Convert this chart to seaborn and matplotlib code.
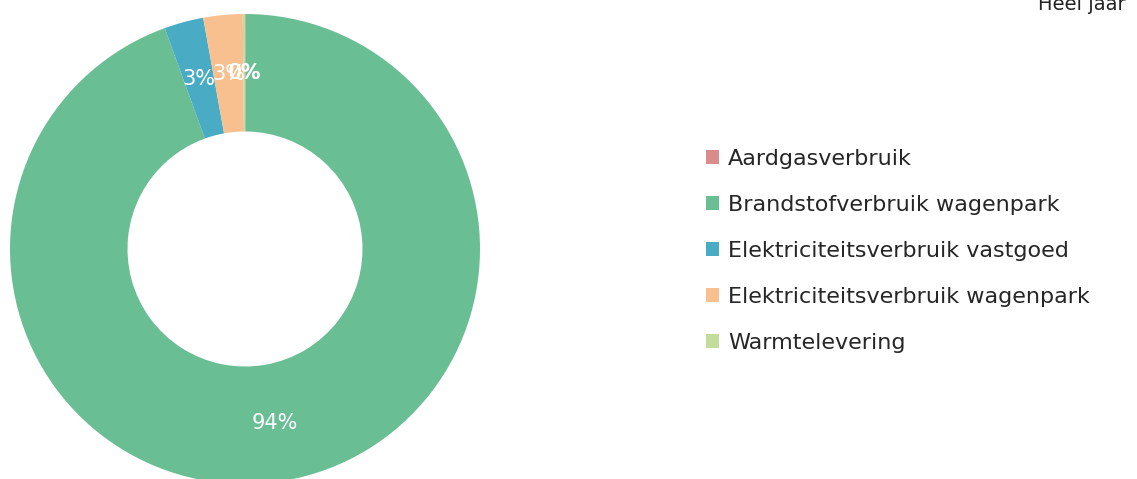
import matplotlib
matplotlib.use('Agg')
import matplotlib.pyplot as plt
import seaborn as sns
from matplotlib.patches import Patch

categories = ['Aardgasverbruik', 'Brandstofverbruik wagenpark',
              'Elektriciteitsverbruik vastgoed', 'Elektriciteitsverbruik wagenpark',
              'Warmtelevering']
values = [0.05, 94.4, 2.7, 2.7, 0.15]
colors = ['#d98c8c', '#6abe93', '#4aabc5', '#f9c08f', '#c3dc9b']
title = 'Heel jaar'

sns.set_theme(style='white')
plt.rcParams['font.family'] = ['DejaVu Sans']

fig = plt.figure(figsize=(11.37, 4.79), dpi=100)

# donut: center (245, 249) px, outer radius 235 px
ax = fig.add_axes([10 / 1137, -5 / 479, 470 / 1137, 470 / 479])
wedges, texts, autotexts = ax.pie(
    values, colors=colors, startangle=90, counterclock=False,
    autopct='%.0f%%', pctdistance=0.75,
    wedgeprops=dict(width=0.5, linewidth=0),
    textprops=dict(color='white', fontsize=15))
ax.set_xlim(-1, 1)
ax.set_ylim(-1, 1)
ax.set_aspect('equal')

handles = [Patch(facecolor=c, edgecolor='none') for c in colors]
fig.legend(handles, categories, loc='upper left', bbox_to_anchor=(697 / 1137, 1 - 140 / 479),
           frameon=False, fontsize=16, handlelength=0.6, handleheight=0.6,
           handletextpad=0.4, labelspacing=1.17, borderaxespad=0)

fig.text(1082 / 1137, 1 - 10 / 479, title, ha='center', va='baseline', fontsize=14, color='#222222')

fig.savefig('out.png', dpi=100)
